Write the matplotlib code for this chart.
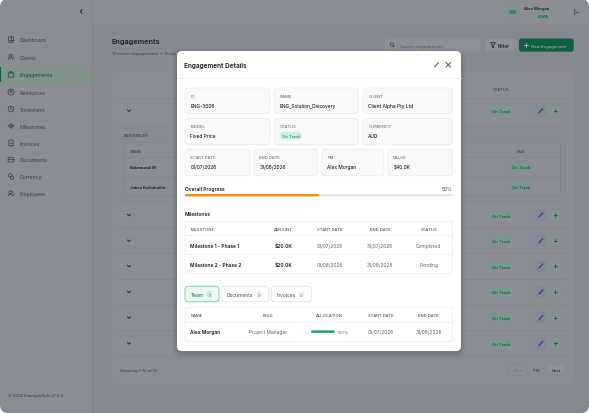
import matplotlib
matplotlib.use("Agg")
import matplotlib.pyplot as plt
from matplotlib.patches import FancyBboxPatch, Circle, Rectangle, Polygon

plt.rcParams['font.family'] = 'Inter'
plt.rcParams['text.hinting'] = 'force_autohint'
plt.rcParams['text.hinting_factor'] = 8

# ---------- content ----------
nav_labels = ["Dashboard", "Clients", "Engagements", "Resources", "Timesheet",
              "Milestones", "Invoices", "Documents", "Currency", "Employees"]
fields_row1 = [("ID", "ENG-3008"), ("NAME", "ENG_Solution_Discovery"), ("CLIENT", "Client Alpha Pty Ltd")]
fields_row2 = [("MODEL", "Fixed Price"), ("STATUS", ""), ("CURRENCY", "AUD")]
fields_row3 = [("START DATE", "01/07/2026"), ("END DATE", "31/08/2026"), ("PM", "Alex Morgan"), ("VALUE", "$40.0K")]
progress_pct = 50
milestone_cols = ["MILESTONE", "AMOUNT", "START DATE", "END DATE", "STATUS"]
milestone_rows = [["Milestone 1 - Phase 1", "$20.0K", "01/07/2026", "31/07/2026", "Completed"],
                  ["Milestone 2 - Phase 2", "$20.0K", "01/08/2026", "31/08/2026", "Pending"]]
tabs = [("Team", 1), ("Documents", 0), ("Invoices", 0)]
team_cols = ["NAME", "ROLE", "ALLOCATION", "START DATE", "END DATE"]
team_row = ["Alex Morgan", "Project Manager", 100, "01/07/2026", "31/08/2026"]
resource_names = ["Balamurali M", "Jakes Kizhakathil"]

W, H = 589, 414
fig = plt.figure(figsize=(W / 100, H / 100), dpi=100, facecolor="white")
ax = fig.add_axes([0, 0, 1, 1])
ax.set_xlim(0, W); ax.set_ylim(H, 0); ax.axis("off")

z = [1]
def box(x0, y0, x1, y1, r=0, fc="none", ec="none", lw=0.6, alpha=None):
    z[0] += 1
    if r > 0:
        p = FancyBboxPatch((x0, y0), x1 - x0, y1 - y0, boxstyle=f"round,pad=0,rounding_size={r}",
                           fc=fc, ec=ec, lw=lw, alpha=alpha, zorder=z[0])
    else:
        p = Rectangle((x0, y0), x1 - x0, y1 - y0, fc=fc, ec=ec, lw=lw, alpha=alpha, zorder=z[0])
    ax.add_patch(p)
    return p

def circ(x, y, r, fc="none", ec="none", lw=0.5):
    z[0] += 1
    ax.add_patch(Circle((x, y), r, fc=fc, ec=ec, lw=lw, zorder=z[0]))

def txt(x, y, s, px=5, c="#20232a", ha="left", w="normal", alpha=None):
    z[0] += 1
    fs = px * 0.72
    if fs < 3.6:
        fs = round(fs * 2) / 2
    # baseline anchored so that the cap-height is centred on y
    ax.text(x, y + px * 0.36, s, fontsize=fs, color=c, ha=ha, va="baseline",
            fontweight=w, alpha=alpha, zorder=z[0])

def line(xs, ys, c="#333", lw=0.7, alpha=None):
    z[0] += 1
    ax.plot(xs, ys, color=c, lw=lw, alpha=alpha, solid_capstyle="round", zorder=z[0])

def chevron(x, y, c="#2a2d35"):
    line([x - 1.5, x, x + 1.5], [y - 0.7, y + 0.8, y - 0.7], c, 0.7)

def pencil(x, y, c):
    line([x - 2.2, x + 1.6], [y + 2.2, y - 1.8], c, 1.0)
    line([x + 1.0, x + 2.2], [y - 2.4, y - 1.2], c, 0.4)

def plus(x, y, c, s=2):
    line([x - s, x + s], [y, y], c, 0.6)
    line([x, x], [y - s, y + s], c, 0.6)

def pill(cx, cy, s="On Track", wd=21, h=7.5, fc="#729a8d", c="#153f31", px=4.17):
    box(cx - wd / 2, cy - h / 2, cx + wd / 2, cy + h / 2, h / 2, fc)
    txt(cx, cy, s, px, c, "center")

def nav_icon(i, x, y, c):
    lw = 0.55
    if i == 0:      # dashboard
        box(x - 2.5, y - 2.8, x + 2.5, y + 2.8, 0.8, "none", c, lw)
        line([x, x], [y - 2.8, y + 2.8], c, lw)
        line([x - 2.5, x + 2.5], [y, y], c, lw)
    elif i in (1, 9):  # people
        circ(x - 0.6, y - 1.2, 1.4, "none", c, lw)
        line([x - 2.8, x - 2.3, x + 1.1, x + 1.6], [y + 2.6, y + 1, y + 1, y + 2.6], c, lw)
        line([x + 1.6, x + 2.8], [y - 2.4, y + 2.4], c, lw * 0.7)
    elif i == 2:    # briefcase
        box(x - 2.8, y - 1.6, x + 2.8, y + 2.6, 0.8, "none", c, lw)
        box(x - 1.1, y - 2.8, x + 1.1, y - 1.6, 0.3, "none", c, lw)
    elif i == 3:    # user circle
        circ(x, y, 3, "none", c, lw)
        circ(x, y - 0.7, 1, "none", c, lw)
    elif i == 4:    # clock
        circ(x, y, 2.8, "none", c, lw)
        line([x, x, x + 1.1], [y - 1.5, y, y + 0.8], c, lw)
    elif i == 5:    # diamond
        z[0] += 1
        ax.add_patch(Polygon([(x - 2.9, y), (x, y - 2.3), (x + 2.9, y), (x, y + 2.3)], closed=True,
                             fc="none", ec=c, lw=lw, zorder=z[0]))
        circ(x, y, 0.7, "none", c, lw)
    elif i == 6:    # document
        box(x - 2.2, y - 2.9, x + 2.2, y + 2.9, 0.6, "none", c, lw)
        line([x - 1, x + 1], [y + 0.3, y + 0.3], c, lw)
        line([x - 1, x + 1], [y + 1.5, y + 1.5], c, lw)
    elif i == 7:    # folder
        box(x - 2.9, y - 2.2, x + 2.9, y + 2.4, 0.7, "none", c, lw)
        line([x - 2.9, x + 2.9], [y - 0.6, y - 0.6], c, lw)
    elif i == 8:    # coins
        circ(x - 0.9, y - 1.2, 1.7, "none", c, lw)
        circ(x + 1.2, y + 1.2, 1.7, "none", c, lw)

# ---------- dimmed page ----------
PAGE_SIDE, PAGE_MAIN = "#8b8d95", "#878991"
box(0, 0, W, H, 8, PAGE_SIDE)
box(92, 26, W, H - 8, 0, PAGE_MAIN)
box(92, H - 8, W - 8, H, 0, PAGE_MAIN)
circ(581, 406, 8, PAGE_MAIN)
line([92, 92], [0, H], "#80828a", 0.4)
line([92, W], [26, 26], "#82848c", 0.4)

# sidebar
line([82, 80.5, 82], [10.5, 12.5, 14.5], "#25272e", 0.7)
nav_y = [40.5, 58, 75.5, 93, 110, 127, 144, 160.5, 177.5, 194.5]
box(0, 68, 92, 83, 0, "#80938b")
box(0, 68, 1, 83, 0, "#0d5c40")
for i, (label, y) in enumerate(zip(nav_labels, nav_y)):
    col = "#14513c" if i == 2 else "#3e414a"
    nav_icon(i, 11, y, col)
    txt(19.5, y, label, 5.2, col)
txt(8, 395, "© 2025 ExampleSoft v7.0.0", 4.17, "#33363e")

# header right
circ(512.3, 12.7, 6.8, "#78958a")
txt(512.3, 12.7, "AM", 4.86, "#1c4d3c", "center")
txt(536.7, 8, "Alex Morgan", 4.4, "#1d2026", "center", "semibold")
box(534, 14, 552.7, 20, 3, "#7a9a8e")
txt(543.3, 17, "ADMIN", 3.47, "#17493a", "center")
line([575.2, 573.5, 573.5, 575.2], [10, 10, 15.4, 15.4], "#2c2f36", 0.45)
line([575, 578], [12.7, 12.7], "#2c2f36", 0.45)

# page heading
txt(112, 41.5, "Engagements", 7.3, "#1c1e24", w="semibold")
txt(112, 53, "12 active engagements  •  Fixed", 4.17, "#3d4049")

# toolbar
box(384.7, 39.7, 480.7, 52.3, 3, "#8d8f97")
circ(391.8, 45.5, 1.7, "none", "#33363e", 0.45)
line([393, 394.2], [46.8, 48], "#33363e", 0.45)
txt(400, 46, "Search engagements", 4.17, "#50535c")
box(485, 39.7, 515.7, 52.3, 3, "#8f9199")
z[0] += 1
ax.add_patch(Polygon([(490.5, 43.5), (495.5, 43.5), (493.7, 46), (493.7, 48.8), (492.3, 48), (492.3, 46)],
                     closed=True, fc="none", ec="#20232a", lw=0.5, zorder=z[0]))
txt(498, 46, "Filter", 4.86, "#20232a", w="semibold")
box(519, 39.5, 573.7, 52.7, 2.5, "#0f5f42")
plus(526, 46, "#b7c6c1", 1.6)
txt(531, 46, "New Engagement", 4.17, "#a9bdb6")

# main card
box(112, 73, 573, 386, 4, "#8b8d95")
txt(500.7, 89, "STATUS", 4.17, "#33363e", "center")
line([119, 566.7], [98.7, 98.7], "#81838b", 0.45)

def row_actions(y):
    box(535.7, y - 5.7, 546.3, y + 5.7, 2, "#858893")
    pencil(541, y, "#2b4f92")
    box(550, y - 5.7, 560.6, y + 5.7, 2, "#83928d")
    plus(555.3, y, "#155e45", 1.7)

chevron(129, 111.7)
pill(500.7, 111.7)
row_actions(111.7)

# expanded resources
box(119, 124, 566.7, 204, 0, "#898b93")
txt(124, 135, "RESOURCES", 4.17, "#33363e")
box(124.5, 143.3, 560.7, 196.7, 3.5, "#8b8d95", "#80828a", 0.4)
txt(130, 151, "NAME", 4.17, "#33363e")
txt(521, 151, "END", 4.17, "#33363e", "center")
line([125, 560], [158, 158], "#80828a", 0.4)
line([125, 560], [177.5, 177.5], "#80828a", 0.4)
for nm, y in zip(resource_names, [167.5, 187.5]):
    txt(130, y, nm, 4.4, "#191b20", w="semibold")
    pill(521, y)

# remaining rows
row_y = [216, 241.7, 267, 292.9, 318.5, 344.3]
for y in row_y:
    chevron(129, y)
    pill(500.7, y)
    row_actions(y)
for y in [229, 254.3, 280.3, 306, 331.3, 357.3]:
    line([119, 566.7], [y, y], "#82848c", 0.4)

# pagination
txt(120, 370, "Showing 1-12 of 12", 4.17, "#33363e")
box(508, 365, 527.7, 376, 2, "#8b8d95", "#82848c", 0.4)
txt(517.8, 370.5, "Prev", 4.17, "#6c6f78", "center")
txt(536.7, 370.5, "1-12", 4.17, "#1d2026", "center")
box(546.7, 365, 565.7, 376, 2, "#8f9199", "#82848c", 0.4)
txt(556.2, 370.5, "Next", 4.17, "#1d2026", "center")

# ---------- modal ----------
for grow, a in [(5, 0.04), (3, 0.07), (1.5, 0.10)]:
    box(177 - grow, 52 - grow + 2, 461 + grow, 352 + grow + 2, 6 + grow, "#30323a", alpha=a)
box(177, 52, 461, 352, 5, "white")
txt(184, 65.8, "Engagement Details", 6.5, "#16181d", w="semibold")
pencil(436.7, 65.8, "#7b7e87")
line([445.8, 450.8], [63.3, 68.3], "#3b3e47", 0.6)
line([445.8, 450.8], [68.3, 63.3], "#3b3e47", 0.6)
line([177, 461], [79.3, 79.3], "#eceef2", 0.6)

CARD_FC, CARD_EC = "#f8f9fb", "#e9ebf0"
LAB, VAL = "#5a5f6b", "#15171c"

def field(x0, x1, y0, y1, label, value):
    box(x0, y0, x1, y1, 3.5, CARD_FC, CARD_EC, 0.5)
    txt(x0 + 5.3, y0 + 7.3, label, 4.17, LAB)
    if value:
        txt(x0 + 5.3, y0 + 17, value, 4.86, "#000000")

col3 = [(185, 270), (274.7, 358.7), (363, 452.7)]
col4 = [(185, 249.7), (254, 317.7), (322, 383.7), (388, 452.7)]
for (x0, x1), (lb, v) in zip(col3, fields_row1):
    field(x0, x1, 89, 114.3, lb, v)
for (x0, x1), (lb, v) in zip(col3, fields_row2):
    field(x0, x1, 119.5, 145.7, lb, v)
pill(291, 136.7, wd=22, h=8, fc="#cff1e1", c="#12604a", px=4.17)
for (x0, x1), (lb, v) in zip(col4, fields_row3):
    field(x0, x1, 150.3, 176.7, lb, v)

txt(185, 188.8, "Overall Progress", 5, VAL, w="semibold")
txt(452.7, 188.8, f"{progress_pct}%", 5, "#3a3e48", "right")
bar_x0, bar_x1 = 185, 452.7
box(bar_x0, 195, bar_x1, 197.4, 1.1, "#e2e5ee")
box(bar_x0, 195, bar_x0 + (bar_x1 - bar_x0) * progress_pct / 100, 197.4, 1.1, "#f79009")

txt(185, 214, "Milestones", 4.86, VAL, w="semibold")
box(185, 222.3, 452.7, 274.7, 3.5, "white", CARD_EC, 0.5)
m_x = [190.3, 283.3, 330, 380.3, 428.7]
m_ha = ["left", "center", "center", "center", "center"]
for x, ha, s in zip(m_x, m_ha, milestone_cols):
    txt(x, 229.7, s, 4.17, "#2f3340", ha)
line([185.5, 452.3], [236.3, 236.3], "#eceef2", 0.6)
line([185.5, 452.3], [255.3, 255.3], "#eceef2", 0.6)
for y, row in zip([246, 265], milestone_rows):
    for j, (x, ha, s) in enumerate(zip(m_x, m_ha, row)):
        bold = j < 2
        txt(x, y, s, 4.86, VAL if bold else "#5f6470", ha, "semibold" if bold else "normal")

# tabs
tab_x = [(185, 219), (221.7, 268.7), (271.3, 311.3)]
tab_badge = [209.3, 259.3, 301.3]
for i, ((x0, x1), (name, n), bx) in enumerate(zip(tab_x, tabs, tab_badge)):
    active = i == 0
    box(x0, 287.3, x1, 302.7, 3, "#ecf9f3" if active else "white", "#7fd1ae" if active else "#e6e8ee", 0.7)
    txt(x0 + 5.3, 295, name, 4.86, "#14694d" if active else "#4a4e59")
    circ(bx, 295, 3.2, "#c9efdc" if active else "#f0f2f6")
    txt(bx, 295, str(n), 4.17, "#14694d" if active else "#5a5f6b", "center")

# team table
box(185, 308.3, 452.7, 342.7, 3.5, "white", CARD_EC, 0.5)
t_x = [190.3, 268.3, 329.7, 381, 428.7]
t_ha = ["left", "center", "center", "center", "center"]
for x, ha, s in zip(t_x, t_ha, team_cols):
    txt(x, 315.7, s, 4.17, "#2f3340", ha)
line([185.5, 452.3], [322.7, 322.7], "#eceef2", 0.6)
y = 332.7
txt(t_x[0], y, team_row[0], 4.86, VAL, w="semibold")
txt(t_x[1], y, team_row[1], 4.86, "#5f6470", "center")
box(311, 331.4, 311 + 23.7 * team_row[2] / 100, 333.8, 1.2, "#10a567")
txt(337.7, y, f"{team_row[2]}%", 4.17, "#5f6470")
txt(t_x[3], y, team_row[3], 4.86, "#5f6470", "center")
txt(t_x[4], y, team_row[4], 4.86, "#5f6470", "center")

fig.savefig("out.png", dpi=100, facecolor="white")
